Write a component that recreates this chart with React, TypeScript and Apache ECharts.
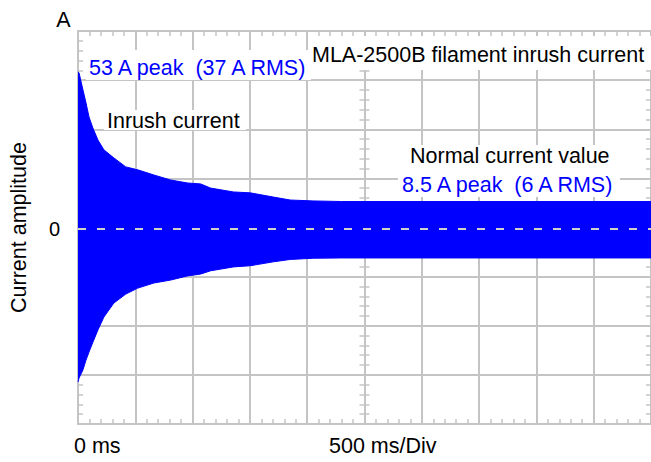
import React, { useEffect, useRef } from 'react';
import * as echarts from 'echarts';

// Time (ms) and envelope of the filament current (A)
const timeMs = [0, 9, 43, 70, 96, 130, 174, 226, 313, 417, 522, 661, 809, 957, 1070, 1157, 1357, 1504, 1704, 1852, 2052, 2300, 5000];
const upperPeakA = [52.6, 52.3, 46.6, 42.2, 37.5, 33.8, 29.8, 26.5, 23.8, 20.8, 19.8, 18.1, 16.4, 15.4, 15.1, 13.7, 12.4, 12.1, 10.7, 9.7, 9.4, 9.2, 9.2];
const lowerPeakA = [-51.2, -49.9, -47.2, -43.9, -41.2, -37.9, -33.8, -29.5, -24.8, -21.8, -19.8, -18.1, -17.1, -15.7, -15.1, -14.0, -12.7, -12.3, -11.0, -10.2, -9.8, -9.7, -9.7];

// Scope graticule: divisions
const xDivisions = [-5, 5];
const yDivisions = [-4, 4];
const timeRange = [0, 5000];
const ampRange = [-65.3, 66.3];

const titleText = 'MLA-2500B filament inrush current';
const peakText = '53 A peak  (37 A RMS)';
const inrushText = 'Inrush current';
const normalText = 'Normal current value';
const normalPeakText = '8.5 A peak  (6 A RMS)';
const xStartLabel = '0 ms';
const xScaleLabel = '500 ms/Div';
const yUnitLabel = 'A';
const yAxisName = 'Current amplitude';

const GRID_COLOR = '#c4c4c4';
const BLUE = '#0000ff';
const FONT = "'Liberation Sans', Arial, sans-serif";
const FS = 21.5;

function divAxisX(position: string, split: boolean) {
  return {
    type: 'value', position, min: xDivisions[0], max: xDivisions[1], interval: 1,
    axisLine: { show: true, onZero: false, lineStyle: { color: GRID_COLOR, width: 2 } },
    axisTick: { show: false, inside: true },
    minorTick: { show: true, splitNumber: 5, length: 5, lineStyle: { color: GRID_COLOR, width: 1.5 } },
    axisLabel: { show: false },
    splitLine: { show: split, lineStyle: { color: GRID_COLOR, width: 2 } },
    minorSplitLine: { show: false },
  };
}

function divAxisY(position: string, split: boolean, inside: boolean, onZero: boolean, showLine: boolean) {
  return {
    type: 'value', position, min: yDivisions[0], max: yDivisions[1], interval: 1,
    axisLine: { show: showLine, onZero, onZeroAxisIndex: onZero ? 1 : undefined, lineStyle: { color: GRID_COLOR, width: 2 } },
    axisTick: { show: false, inside },
    minorTick: { show: true, splitNumber: 5, length: 5, lineStyle: { color: GRID_COLOR, width: 1.5 } },
    axisLabel: { show: false },
    splitLine: { show: split, lineStyle: { color: GRID_COLOR, width: 2 } },
    minorSplitLine: { show: false },
  };
}

function txt(text: string, x: number, y: number, color: string, align = 'left') {
  return {
    type: 'text', x, y, z: 60, silent: true,
    style: { text, fill: color, font: `${FS}px ${FONT}`, align, verticalAlign: 'middle' },
  };
}

function box(x: number, y: number, w: number, h: number) {
  return { type: 'rect', z: 55, silent: true, shape: { x, y, width: w, height: h }, style: { fill: '#ffffff' } };
}

export default function App() {
  const ref = useRef<HTMLDivElement>(null);
  useEffect(() => {
    if (!ref.current) return;
    const chart = echarts.init(ref.current, undefined, { renderer: 'svg' });
    const option: any = {
      animation: false,
      backgroundColor: '#ffffff',
      grid: { left: 77, top: 31, width: 577, height: 393 },
      xAxis: [
        { type: 'value', min: timeRange[0], max: timeRange[1], show: false, axisLine: { onZero: false } },
        divAxisX('bottom', true),
        divAxisX('top', false),
      ],
      yAxis: [
        {
          type: 'value', position: 'left', min: ampRange[0], max: ampRange[1],
          axisLine: { show: false, onZero: false },
          axisTick: { show: false },
          splitLine: { show: false },
          axisLabel: {
            formatter: (v: number) => (Math.abs(v) < 1e-9 ? '0' : ''),
            margin: 18, fontSize: 20, color: '#000', fontFamily: FONT,
            showMinLabel: false, showMaxLabel: false,
          },
          name: yAxisName, nameLocation: 'middle', nameGap: 48,
          nameTextStyle: { fontSize: FS, color: '#000', fontFamily: FONT },
        },
        divAxisY('left', true, true, false, true),
        divAxisY('right', false, true, false, true),
        divAxisY('left', false, true, true, false),
        divAxisY('left', false, false, true, false),
      ],
      series: [
        {
          type: 'line', xAxisIndex: 0, yAxisIndex: 0, silent: true,
          data: timeMs.map((t, i) => [t, upperPeakA[i]]),
          symbol: 'none', lineStyle: { color: BLUE, width: 1 },
          areaStyle: { color: BLUE, opacity: 1 },
        },
        {
          type: 'line', xAxisIndex: 0, yAxisIndex: 0, silent: true,
          data: timeMs.map((t, i) => [t, lowerPeakA[i]]),
          symbol: 'none', lineStyle: { color: BLUE, width: 1 },
          areaStyle: { color: BLUE, opacity: 1 },
          markLine: {
            silent: true, symbol: ['none', 'none'], label: { show: false },
            lineStyle: { color: '#d0d0d0', type: [8, 11], width: 2 },
            data: [{ yAxis: 0 }],
          },
        },
      ],
      graphic: [
        box(309, 36, 345, 34),
        box(86, 50, 225, 30),
        box(104, 110, 142, 20),
        box(405, 145, 210, 22),
        box(398, 167, 222, 30),
        txt(titleText, 312, 54.5, '#000'),
        txt(peakText, 89, 68, BLUE),
        txt(inrushText, 107, 121, '#000'),
        txt(normalText, 410, 155.5, '#000'),
        txt(normalPeakText, 402, 185, BLUE),
        txt(xStartLabel, 74, 446, '#000'),
        txt(xScaleLabel, 329, 446, '#000'),
        txt(yUnitLabel, 63.5, 19.5, '#000', 'center'),
      ],
    };
    chart.setOption(option);
    return () => chart.dispose();
  }, []);
  return (
    <div
      ref={ref}
      style={{ position: 'fixed', left: 0, top: 0, width: 651, height: 462, background: '#fff' }}
    />
  );
}
